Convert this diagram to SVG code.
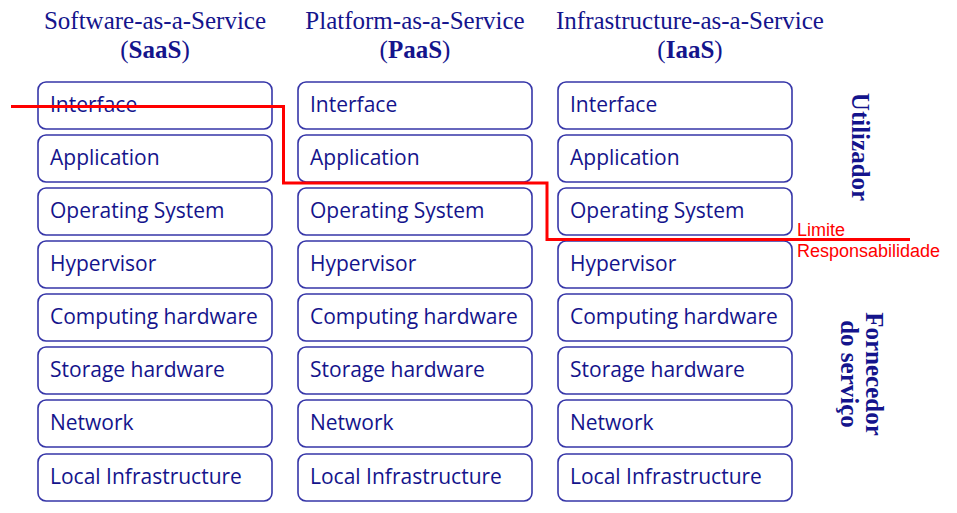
<svg xmlns="http://www.w3.org/2000/svg" width="957" height="513" viewBox="0 0 957 513">
<style>
.box{fill:#fff;stroke:#3636a8;stroke-width:1.6}
.lbl{font-family:"Open Sans","Liberation Sans",sans-serif;font-size:21px;fill:#14148c}
.hd{font-family:"Liberation Serif","DejaVu Serif",serif;font-size:25px;fill:#14148c;text-anchor:middle}
.hdb{font-weight:bold}
.side{font-family:"Liberation Serif","DejaVu Serif",serif;font-size:25px;font-weight:bold;fill:#14148c;text-anchor:middle}
.red{font-family:"Liberation Sans",sans-serif;font-size:18px;fill:#ff0000}
</style>
<rect width="957" height="513" fill="#fff"/>
<g id="headers">
<text class="hd" x="155" y="29">Software-as-a-Service</text>
<text class="hd" x="155" y="58">(<tspan class="hdb">SaaS</tspan>)</text>
<text class="hd" x="415" y="29">Platform-as-a-Service</text>
<text class="hd" x="415" y="58">(<tspan class="hdb">PaaS</tspan>)</text>
<text class="hd" x="690" y="29">Infrastructure-as-a-Service</text>
<text class="hd" x="690" y="58">(<tspan class="hdb">IaaS</tspan>)</text>
</g>
<g id="saas">
<g id="saas-interface"><rect class="box" x="38" y="82" width="234" height="47" rx="8"/><text class="lbl" x="50" y="112">Interface</text></g>
<g id="saas-application"><rect class="box" x="38" y="135" width="234" height="47" rx="8"/><text class="lbl" x="50" y="165">Application</text></g>
<g id="saas-os"><rect class="box" x="38" y="188" width="234" height="47" rx="8"/><text class="lbl" x="50" y="218">Operating System</text></g>
<g id="saas-hypervisor"><rect class="box" x="38" y="241" width="234" height="47" rx="8"/><text class="lbl" x="50" y="271">Hypervisor</text></g>
<g id="saas-computing"><rect class="box" x="38" y="294" width="234" height="47" rx="8"/><text class="lbl" x="50" y="324">Computing hardware</text></g>
<g id="saas-storage"><rect class="box" x="38" y="347" width="234" height="47" rx="8"/><text class="lbl" x="50" y="377">Storage hardware</text></g>
<g id="saas-network"><rect class="box" x="38" y="400" width="234" height="47" rx="8"/><text class="lbl" x="50" y="430">Network</text></g>
<g id="saas-local"><rect class="box" x="38" y="454" width="234" height="47" rx="8"/><text class="lbl" x="50" y="484">Local Infrastructure</text></g>
</g>
<g id="paas">
<g id="paas-interface"><rect class="box" x="298" y="82" width="234" height="47" rx="8"/><text class="lbl" x="310" y="112">Interface</text></g>
<g id="paas-application"><rect class="box" x="298" y="135" width="234" height="47" rx="8"/><text class="lbl" x="310" y="165">Application</text></g>
<g id="paas-os"><rect class="box" x="298" y="188" width="234" height="47" rx="8"/><text class="lbl" x="310" y="218">Operating System</text></g>
<g id="paas-hypervisor"><rect class="box" x="298" y="241" width="234" height="47" rx="8"/><text class="lbl" x="310" y="271">Hypervisor</text></g>
<g id="paas-computing"><rect class="box" x="298" y="294" width="234" height="47" rx="8"/><text class="lbl" x="310" y="324">Computing hardware</text></g>
<g id="paas-storage"><rect class="box" x="298" y="347" width="234" height="47" rx="8"/><text class="lbl" x="310" y="377">Storage hardware</text></g>
<g id="paas-network"><rect class="box" x="298" y="400" width="234" height="47" rx="8"/><text class="lbl" x="310" y="430">Network</text></g>
<g id="paas-local"><rect class="box" x="298" y="454" width="234" height="47" rx="8"/><text class="lbl" x="310" y="484">Local Infrastructure</text></g>
</g>
<g id="iaas">
<g id="iaas-interface"><rect class="box" x="558" y="82" width="234" height="47" rx="8"/><text class="lbl" x="570" y="112">Interface</text></g>
<g id="iaas-application"><rect class="box" x="558" y="135" width="234" height="47" rx="8"/><text class="lbl" x="570" y="165">Application</text></g>
<g id="iaas-os"><rect class="box" x="558" y="188" width="234" height="47" rx="8"/><text class="lbl" x="570" y="218">Operating System</text></g>
<g id="iaas-hypervisor"><rect class="box" x="558" y="241" width="234" height="47" rx="8"/><text class="lbl" x="570" y="271">Hypervisor</text></g>
<g id="iaas-computing"><rect class="box" x="558" y="294" width="234" height="47" rx="8"/><text class="lbl" x="570" y="324">Computing hardware</text></g>
<g id="iaas-storage"><rect class="box" x="558" y="347" width="234" height="47" rx="8"/><text class="lbl" x="570" y="377">Storage hardware</text></g>
<g id="iaas-network"><rect class="box" x="558" y="400" width="234" height="47" rx="8"/><text class="lbl" x="570" y="430">Network</text></g>
<g id="iaas-local"><rect class="box" x="558" y="454" width="234" height="47" rx="8"/><text class="lbl" x="570" y="484">Local Infrastructure</text></g>
</g>
<g id="connectors">
<polyline points="11,106.5 283.5,106.5 283.5,183 547,183 547,239.5 910,239.5" fill="none" stroke="#ff0000" stroke-width="3"/>
</g>
<g id="limit-label">
<text class="red" x="797" y="236">Limite</text>
<text class="red" x="797" y="257">Responsabilidade</text>
</g>
<g id="side-labels">
<text class="side" transform="translate(852,147) rotate(90)">Utilizador</text>
<text class="side" transform="translate(866,374) rotate(90)">Fornecedor</text>
<text class="side" transform="translate(841,374) rotate(90)">do serviço</text>
</g>
</svg>
